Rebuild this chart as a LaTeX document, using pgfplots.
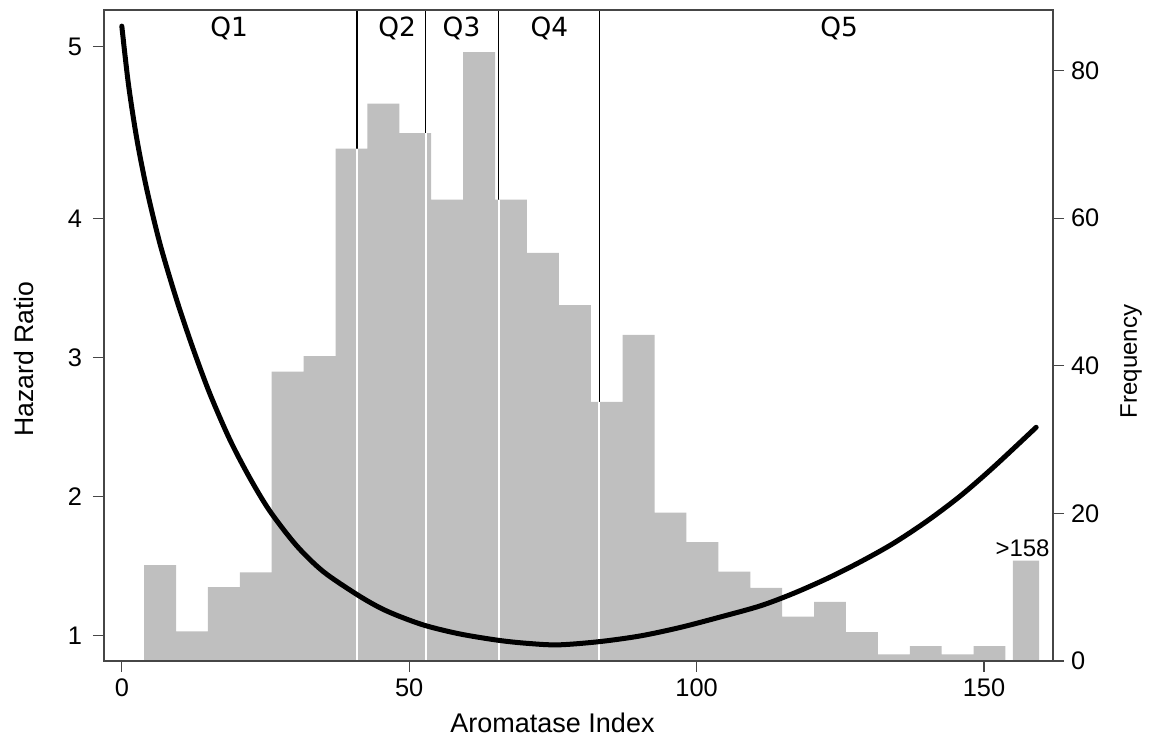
\documentclass[border=0pt]{standalone}
\usepackage{fontspec}
\setmainfont{Liberation Sans}
\newfontfamily\qfont{DejaVu Sans}
\usepackage{pgfplots}
\pgfplotsset{compat=1.18}
\definecolor{hist}{RGB}{191,191,191}
\definecolor{axgray}{RGB}{70,70,70}
\begin{document}
\begin{tikzpicture}
\begin{axis}[name=A, at={(0,0)}, anchor=south west,
  scale only axis, width=474.5pt, height=325.5pt,
  xmin=-3.1, xmax=162, ymin=0, ymax=88.2,
  axis on top,
  axis line style={axgray, line width=0.6pt},
  tick align=outside, major tick length=5.5pt,
  tick style={axgray, line width=0.6pt},
  xtick={0,50,100,150}, xtick pos=left,
  ytick={0,20,40,60,80}, ytick pos=right, yticklabel pos=right,
  minor tick num=0,
  ticklabel style={font=\fontsize{12.7}{15}\selectfont},
  /pgf/number format/assume math mode=true,
]
% quintile cut lines (black above the bars)
\draw[black, line width=0.7pt] (axis cs:40.9,0) -- (axis cs:40.9,88.2);
\draw[black, line width=0.7pt] (axis cs:52.85,0) -- (axis cs:52.85,88.2);
\draw[black, line width=0.7pt] (axis cs:65.55,0) -- (axis cs:65.55,88.2);
\draw[black, line width=0.7pt] (axis cs:83.1,0) -- (axis cs:83.1,88.2);
% histogram
\addplot[const plot, fill=hist, draw=none] coordinates {
(3.88,13) (9.43,4) (14.98,10) (20.53,12) (26.08,39.2) (31.63,41.3)
(37.18,69.4) (42.73,75.5) (48.28,71.5) (53.83,62.5) (59.38,82.5)
(64.93,62.5) (70.48,55.3) (76.03,48.2) (81.58,35.1) (87.13,44.2)
(92.68,20.1) (98.23,16.1) (103.78,12.1) (109.33,9.9) (114.88,6)
(120.43,8) (125.98,3.9) (131.53,0.9) (137.08,2) (142.63,0.9)
(148.18,2) (153.73,2)
} \closedcycle;
\addplot[const plot, fill=hist, draw=none] coordinates {
(155.0,13.6) (159.6,13.6)
} \closedcycle;
% white parts of the cut lines
\draw[white, line width=1pt] (axis cs:40.9,0) -- (axis cs:40.9,69.4);
\draw[white, line width=1pt] (axis cs:52.85,0) -- (axis cs:52.85,71.5);
\draw[white, line width=1pt] (axis cs:65.55,0) -- (axis cs:65.55,62.5);
\draw[white, line width=1pt] (axis cs:83.1,0) -- (axis cs:83.1,35.1);
% quintile labels
\node[font=\qfont\fontsize{13.2}{15}\selectfont, anchor=base] at (axis cs:18.67,84.55) {Q1};
\node[font=\qfont\fontsize{13.2}{15}\selectfont, anchor=base] at (axis cs:47.9,84.55) {Q2};
\node[font=\qfont\fontsize{13.2}{15}\selectfont, anchor=base] at (axis cs:59.1,84.55) {Q3};
\node[font=\qfont\fontsize{13.2}{15}\selectfont, anchor=base] at (axis cs:74.4,84.55) {Q4};
\node[font=\qfont\fontsize{13.2}{15}\selectfont, anchor=base] at (axis cs:124.8,84.55) {Q5};
\node[font=\fontsize{12}{14}\selectfont, anchor=base, inner sep=0pt] at (axis cs:156.7,14.2) {\textgreater158};
\end{axis}
\begin{axis}[at={(0,0)}, anchor=south west,
  scale only axis, width=474.5pt, height=325.5pt,
  xmin=-3.1, xmax=162, ymin=0.818, ymax=5.498,
  axis x line=none, axis y line*=left,
  axis line style={axgray, line width=0.6pt},
  tick align=outside, major tick length=5.5pt,
  tick style={axgray, line width=0.6pt},
  ytick={1,2,3,4,5.234}, yticklabels={1,2,3,4,5},
  ytick pos=left,
  yticklabel style={font=\fontsize{12.7}{15}\selectfont, xshift=-2pt},
]
\addplot[black, line width=2.5pt, smooth, tension=0.5, line cap=round] coordinates {
(0,5.382) (1.15,4.965) (2.61,4.571) (4.35,4.207) (6.66,3.814) (9.57,3.41)
(12.46,3.056) (15.36,2.735) (18.84,2.405) (22.32,2.13) (25.8,1.893)
(30.45,1.645) (35.07,1.46) (40.94,1.295) (44.94,1.2) (48.42,1.137)
(52.94,1.071) (58.85,1.012) (65.64,0.966) (70.8,0.944) (75.96,0.934)
(83.04,0.957) (90.17,0.998) (97.13,1.059) (104.09,1.134) (111.05,1.214)
(116.79,1.303) (122.71,1.411) (128.45,1.530) (134.2,1.663) (140.12,1.825)
(145.86,2.004) (151.58,2.209) (159.07,2.498)
};
\end{axis}
\begin{scope}[shift={(A.south west)}, x=0.5pt, y=0.5pt]
\node[rotate=90, font=\fontsize{13.3}{16}\selectfont] at (-80,302) {Hazard Ratio};
\node[rotate=90, font=\fontsize{12}{14}\selectfont] at (1027,299.5) {Frequency};
\node[anchor=base, font=\fontsize{13.5}{16}\selectfont] at (448.5,-72) {Aromatase Index};
\path (-104,-78) rectangle (1051,661);
\end{scope}
\end{tikzpicture}
\end{document}
